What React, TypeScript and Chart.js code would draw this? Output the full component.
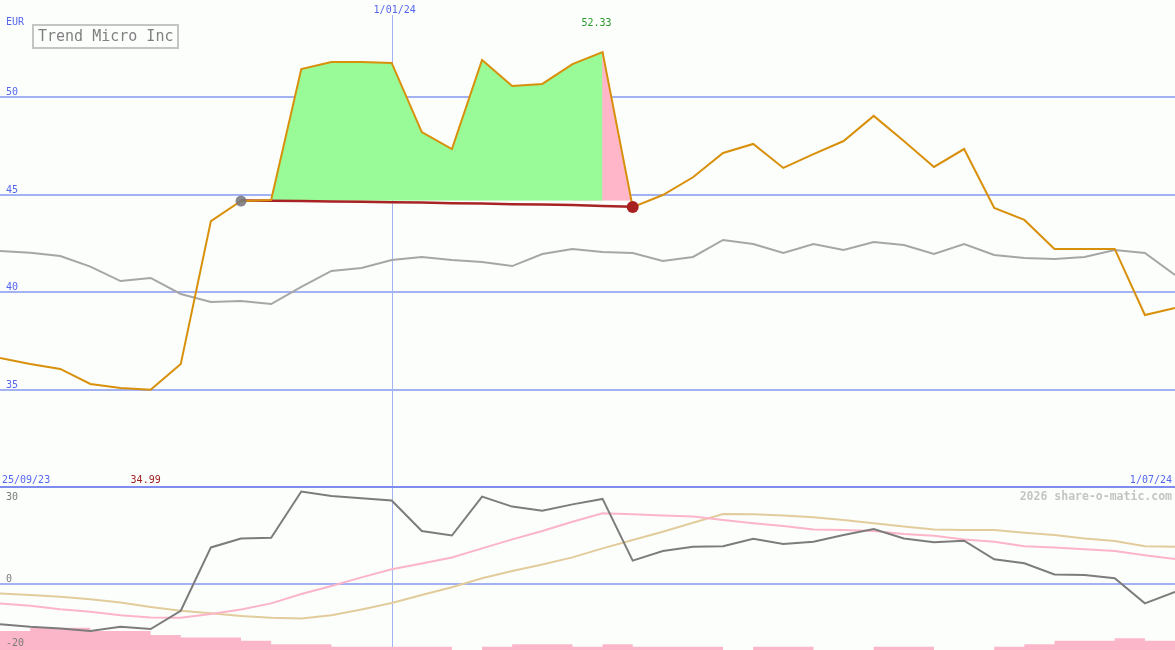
import { useEffect, useRef } from "react";
import { Chart, registerables, Plugin } from "chart.js";

Chart.register(...registerables);

const W = 1175;
const TOP_H = 487;
const LOW_H = 163;

const FONT = '"DejaVu Sans Mono", monospace';
const BLUE_TEXT = "#5566ee";
const GRID = "#a3b2f2";
const SEP = "#7d8cee";
const BG = "#fcfefc";

// weekly closes, 2/10/23 .. 1/07/24
const weeks = [
  "2/10/23", "9/10/23", "16/10/23", "23/10/23", "30/10/23", "6/11/23", "13/11/23", "20/11/23",
  "27/11/23", "4/12/23", "11/12/23", "18/12/23", "25/12/23", "1/01/24", "8/01/24", "15/01/24",
  "22/01/24", "29/01/24", "5/02/24", "12/02/24", "19/02/24", "26/02/24", "4/03/24", "11/03/24",
  "18/03/24", "25/03/24", "1/04/24", "8/04/24", "15/04/24", "22/04/24", "29/04/24", "6/05/24",
  "13/05/24", "20/05/24", "27/05/24", "3/06/24", "10/06/24", "17/06/24", "24/06/24", "1/07/24",
];

const price = [
  36.62, 36.31, 36.06, 35.29, 35.08, 34.99, 36.31, 43.65, 44.68, 44.73,
  51.46, 51.82, 51.82, 51.77, 48.22, 47.35, 51.92, 50.59, 50.69, 51.71,
  52.33, 44.37, 44.99, 45.9, 47.15, 47.61, 46.38, 47.09, 47.76, 49.05,
  47.76, 46.43, 47.35, 44.32, 43.71, 42.22, 42.22, 42.22, 38.83, 39.19,
];

const priceAvg = [
  42.12, 42.03, 41.86, 41.31, 40.57, 40.73, 39.91, 39.5, 39.55, 39.39,
  40.27, 41.09, 41.24, 41.65, 41.81, 41.65, 41.55, 41.34, 41.96, 42.22,
  42.06, 42.01, 41.6, 41.81, 42.68, 42.47, 42.01, 42.47, 42.17, 42.58,
  42.42, 41.96, 42.47, 41.91, 41.76, 41.7, 41.81, 42.17, 42.01, 40.88,
];

// position: bought at week 8, sold at week 21
const buyIndex = 8;
const sellIndex = 21;
const buyLevel = 44.7;
const stopLevels = [
  44.71, 44.7, 44.68, 44.66, 44.64, 44.62, 44.6, 44.57, 44.55, 44.52, 44.5, 44.47, 44.43, 44.39,
];

const momentum = [
  -12.6, -13.4, -13.9, -14.7, -13.4, -14.1, -8.4, 11.3, 14.1, 14.3,
  28.7, 27.3, 26.6, 25.9, 16.4, 15.0, 27.1, 24.0, 22.7, 24.7,
  26.4, 7.2, 10.2, 11.5, 11.7, 14.0, 12.4, 13.1, 15.2, 17.0,
  14.1, 12.9, 13.4, 7.6, 6.4, 2.9, 2.7, 1.7, -6.1, -2.5,
];

const pinkAvg = [
  -6.1, -6.8, -7.9, -8.7, -9.8, -10.5, -10.6, -9.4, -8.0, -6.1,
  -3.2, -0.7, 2.0, 4.5, 6.3, 8.2, 11.0, 13.8, 16.4, 19.3,
  21.9, 21.6, 21.2, 20.9, 19.8, 18.8, 18.0, 16.9, 16.7, 16.4,
  15.5, 14.9, 13.8, 13.1, 11.7, 11.3, 10.7, 10.2, 8.9, 7.7,
];

const tanAvg = [
  -3.0, -3.5, -4.0, -4.8, -5.8, -7.2, -8.4, -9.2, -10.0, -10.6,
  -10.8, -9.8, -8.0, -6.0, -3.5, -1.1, 1.7, 4.0, 6.0, 8.2,
  11.0, 13.6, 16.2, 19.0, 21.7, 21.6, 21.2, 20.7, 19.8, 18.8,
  17.8, 16.9, 16.7, 16.7, 15.9, 15.2, 14.1, 13.3, 11.7, 11.5,
];

const volume = [
  5.8, 6.8, 6.8, 5.8, 5.8, 4.6, 3.8, 3.8, 2.8, 1.8,
  1.8, 1.0, 1.0, 1.0, 1.0, 0, 1.0, 1.8, 1.8, 1.0,
  1.8, 1.0, 1.0, 1.0, 0, 1.0, 1.0, 0, 0, 1.0,
  1.0, 0, 0, 1.0, 1.8, 2.8, 2.8, 3.6, 2.8, 2.8,
];

const priceTicks = [35, 40, 45, 50];
const oscTicks = [30, 0, -20];
const oscGridLines = [0];
const markerDate = "1/01/24";
const rangeStart = "25/09/23";
const rangeEnd = "1/07/24";
const title = "Trend Micro Inc";
const watermark = "2026 share-o-matic.com";

const maxIndex = price.indexOf(Math.max(...price));
const minIndex = price.indexOf(Math.min(...price));

const topDecor: Plugin = {
  id: "topDecor",
  beforeDatasetsDraw(chart) {
    const { ctx } = chart;
    const x = chart.scales.x;
    const y = chart.scales.y;
    ctx.save();
    ctx.fillStyle = GRID;
    priceTicks.forEach((t) => {
      const py = Math.round(y.getPixelForValue(t));
      ctx.fillRect(0, py - 1, W, 2);
    });
    const vx = Math.round(x.getPixelForValue(weeks.indexOf(markerDate)));
    ctx.fillRect(vx, 15, 1, TOP_H - 15);
    ctx.fillStyle = SEP;
    ctx.fillRect(0, TOP_H - 1, W, 1);
    ctx.restore();
  },
  afterDraw(chart) {
    const { ctx } = chart;
    const x = chart.scales.x;
    const y = chart.scales.y;
    ctx.save();
    ctx.textBaseline = "alphabetic";
    ctx.font = `10px ${FONT}`;
    ctx.fillStyle = BLUE_TEXT;
    ctx.textAlign = "left";
    ctx.fillText("EUR", 6, 25);
    priceTicks.forEach((t) => {
      ctx.fillText(String(t), 6, Math.round(y.getPixelForValue(t)) - 2);
    });
    ctx.fillText(rangeStart, 2, 482.5);
    ctx.textAlign = "right";
    ctx.fillText(rangeEnd, 1172, 482.5);
    ctx.textAlign = "center";
    const vx = x.getPixelForValue(weeks.indexOf(markerDate));
    ctx.fillText(markerDate, vx + 3, 12.5);

    ctx.fillStyle = "#2a9a2a";
    ctx.fillText(price[maxIndex].toFixed(2), x.getPixelForValue(maxIndex) - 6, 25.5);
    ctx.fillStyle = "#a02222";
    ctx.fillText(price[minIndex].toFixed(2), x.getPixelForValue(minIndex) - 5, 482.5);

    // title box
    ctx.strokeStyle = "#c4c4c4";
    ctx.lineWidth = 2;
    ctx.strokeRect(33, 25, 145, 23);
    ctx.fillStyle = "#808080";
    ctx.textAlign = "left";
    ctx.font = `15px ${FONT}`;
    ctx.fillText(title, 38, 41);
    ctx.restore();
  },
};

const lowDecor: Plugin = {
  id: "lowDecor",
  beforeDatasetsDraw(chart) {
    const { ctx } = chart;
    const x = chart.scales.x;
    const y = chart.scales.y;
    ctx.save();
    ctx.fillStyle = GRID;
    oscGridLines.forEach((t) => {
      const py = Math.round(y.getPixelForValue(t));
      ctx.fillRect(0, py - 1, W, 2);
    });
    const vx = Math.round(x.getPixelForValue(weeks.indexOf(markerDate)));
    ctx.fillRect(vx, 0, 1, LOW_H);
    ctx.fillStyle = SEP;
    ctx.fillRect(0, 0, W, 1);
    ctx.restore();
  },
  afterDraw(chart) {
    const { ctx } = chart;
    const y = chart.scales.y;
    ctx.save();
    ctx.font = `10px ${FONT}`;
    ctx.fillStyle = "#7a7a7a";
    ctx.textAlign = "left";
    oscTicks.forEach((t) => {
      const py = Math.max(Math.round(y.getPixelForValue(t)) - 2, 12.5);
      ctx.fillText(String(t), 6, py);
    });
    ctx.font = `bold 11.5px ${FONT}`;
    ctx.fillStyle = "#c4c4c4";
    ctx.textAlign = "right";
    ctx.fillText(watermark, 1172, 13);
    ctx.restore();
  },
};

function TopChart() {
  const chartRef = useRef<HTMLCanvasElement>(null);

  useEffect(() => {
    if (!chartRef.current) return;
    const greenData = price.map((v, i) => (i >= buyIndex && i <= maxIndex ? v : null));
    // pink starts one week early so it sits under the green edge (no seam)
    const pinkData = price.map((v, i) => (i >= maxIndex - 1 && i <= sellIndex ? v : null));
    const stopData = weeks.map((_, i) =>
      i >= buyIndex && i <= sellIndex ? stopLevels[i - buyIndex] : null
    );
    const buyPoint = price.map((v, i) => (i === buyIndex ? v : null));
    const sellPoint = price.map((v, i) => (i === sellIndex ? v : null));

    const chart = new Chart(chartRef.current, {
      type: "line",
      data: {
        labels: weeks,
        datasets: [
          {
            data: greenData,
            borderWidth: 0,
            pointRadius: 0,
            fill: { target: { value: buyLevel }, above: "#98fb98", below: "rgba(0,0,0,0)" },
            order: 10,
          },
          {
            data: pinkData,
            borderWidth: 0,
            pointRadius: 0,
            fill: { target: { value: buyLevel }, above: "#ffb6c8", below: "rgba(0,0,0,0)" },
            order: 11,
          },
          {
            data: priceAvg,
            borderColor: "#a6a6a6",
            borderWidth: 2,
            pointRadius: 0,
            fill: false,
            order: 8,
          },
          {
            data: stopData,
            borderColor: "#a82424",
            borderWidth: 2.5,
            pointRadius: 0,
            fill: false,
            order: 6,
          },
          {
            data: price,
            borderColor: "#d8900a",
            borderWidth: 2,
            pointRadius: 0,
            fill: false,
            order: 4,
          },
          {
            data: buyPoint,
            showLine: false,
            pointRadius: 5.5,
            pointBorderWidth: 0,
            pointBackgroundColor: "rgba(115,115,120,0.85)",
            order: 1,
          },
          {
            data: sellPoint,
            showLine: false,
            pointRadius: 6,
            pointBorderWidth: 0,
            pointBackgroundColor: "#a82020",
            order: 1,
          },
        ],
      },
      options: {
        responsive: false,
        animation: false,
        events: [],
        layout: { padding: 0, autoPadding: false },
        plugins: { legend: { display: false }, tooltip: { enabled: false } },
        scales: {
          x: { type: "category", display: false, offset: false },
          y: { display: false, min: 30, max: 55 },
        },
      },
      plugins: [topDecor],
    });

    return () => chart.destroy();
  }, []);

  return (
    <canvas
      ref={chartRef}
      width={W}
      height={TOP_H}
      style={{ position: "absolute", left: 0, top: 0, width: W, height: TOP_H }}
    />
  );
}

function LowerChart() {
  const chartRef = useRef<HTMLCanvasElement>(null);

  useEffect(() => {
    if (!chartRef.current) return;
    const chart = new Chart(chartRef.current, {
      type: "line",
      data: {
        labels: weeks,
        datasets: [
          {
            data: volume,
            yAxisID: "yv",
            stepped: "before",
            borderWidth: 0,
            pointRadius: 0,
            backgroundColor: "#fbb6c9",
            fill: "start",
            order: 10,
          },
          {
            data: tanAvg,
            borderColor: "#e2cc9c",
            borderWidth: 2,
            pointRadius: 0,
            fill: false,
            order: 6,
          },
          {
            data: pinkAvg,
            borderColor: "#fbb4c8",
            borderWidth: 2,
            pointRadius: 0,
            fill: false,
            order: 5,
          },
          {
            data: momentum,
            borderColor: "#7c7c7c",
            borderWidth: 2,
            pointRadius: 0,
            fill: false,
            order: 2,
          },
        ],
      },
      options: {
        responsive: false,
        animation: false,
        events: [],
        layout: { padding: 0, autoPadding: false },
        plugins: { legend: { display: false }, tooltip: { enabled: false } },
        scales: {
          x: { type: "category", display: false, offset: false },
          y: { display: false, min: -20.6, max: 30.1 },
          yv: { display: false, min: 0, max: 50 },
        },
      },
      plugins: [lowDecor],
    });

    return () => chart.destroy();
  }, []);

  return (
    <canvas
      ref={chartRef}
      width={W}
      height={LOW_H}
      style={{ position: "absolute", left: 0, top: TOP_H, width: W, height: LOW_H }}
    />
  );
}

export default function App() {
  useEffect(() => {
    document.body.style.margin = "0";
    document.body.style.background = BG;
  }, []);

  return (
    <div
      style={{
        position: "absolute",
        left: 0,
        top: 0,
        width: W,
        height: TOP_H + LOW_H,
        background: BG,
        overflow: "hidden",
      }}
    >
      <TopChart />
      <LowerChart />
    </div>
  );
}
